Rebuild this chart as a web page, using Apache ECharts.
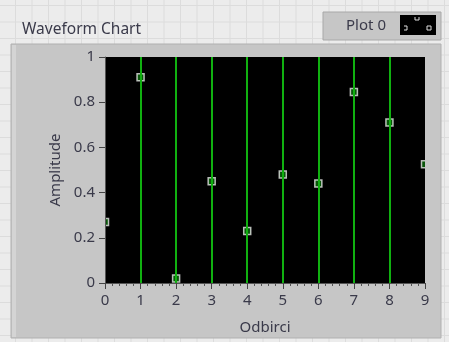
<!DOCTYPE html>
<html>
<head>
<meta charset="utf-8">
<script src="https://cdn.jsdelivr.net/npm/echarts@6/dist/echarts.min.js"></script>
<style>
  html, body { margin: 0; padding: 0; background: #ececec; }
  #main { width: 449px; height: 342px; }
</style>
</head>
<body>
<div id="main"></div>
<script>
// data
const samples = [0, 1, 2, 3, 4, 5, 6, 7, 8, 9];
const amplitude = [0.27, 0.91, 0.02, 0.45, 0.23, 0.48, 0.44, 0.845, 0.71, 0.525];
const plotName = 'Plot 0';

const myChart = echarts.init(document.getElementById('main'));

// front panel grid + chart frame
const bg = [];
for (let x = 15.5; x < 449; x += 16.5) {
  bg.push({ type: 'line', shape: { x1: x, y1: 0, x2: x, y2: 342 }, style: { stroke: '#dcdcdc', lineWidth: 1 }, z: -20 });
}
for (let y = 5.5; y < 342; y += 16.5) {
  bg.push({ type: 'line', shape: { x1: 0, y1: y, x2: 449, y2: y }, style: { stroke: '#dcdcdc', lineWidth: 1 }, z: -20 });
}
bg.push(
  { type: 'rect', shape: { x: 11, y: 44, width: 430, height: 294 }, style: { fill: '#c6c6c6', stroke: '#b0b0b0', lineWidth: 1 }, z: -10 },
  { type: 'rect', shape: { x: 12, y: 45, width: 4, height: 292 }, style: { fill: '#d4d4d4' }, z: -9 },
  { type: 'text', style: { text: 'Waveform Chart', x: 22, y: 30, fill: '#3a3a4a', font: '15.5px "Noto Sans"', verticalAlign: 'middle' }, z: -5 },
  // legend box
  { type: 'rect', shape: { x: 323, y: 12, width: 118, height: 28 }, style: { fill: '#c6c6c6', stroke: '#a8a8a8', lineWidth: 1 }, z: -5 },
  { type: 'text', style: { text: plotName, x: 366, y: 26, fill: '#3a3a4a', font: '15px "Noto Sans"', align: 'center', verticalAlign: 'middle' }, z: -4 },
  { type: 'rect', shape: { x: 400, y: 15, width: 36, height: 20 }, style: { fill: '#000' }, z: -4 },
  { type: 'polyline', shape: { points: [[404, 26], [407, 26], [407, 30], [404, 30]] }, style: { fill: 'none', stroke: '#ddd', lineWidth: 1 }, z: -3 },
  { type: 'polyline', shape: { points: [[415, 17], [415, 20], [419, 20], [419, 17]] }, style: { fill: 'none', stroke: '#ddd', lineWidth: 1 }, z: -3 },
  { type: 'rect', shape: { x: 427, y: 26, width: 4, height: 4 }, style: { fill: 'none', stroke: '#ddd', lineWidth: 1 }, z: -3 },
  // masks that clip the edge markers to the plot area
  { type: 'rect', shape: { x: 95, y: 50, width: 10, height: 240 }, style: { fill: '#c6c6c6' }, z: 5 },
  { type: 'rect', shape: { x: 425, y: 50, width: 10, height: 240 }, style: { fill: '#c6c6c6' }, z: 5 }
);

const axisText = { color: '#3a3a4a', fontSize: 15, fontFamily: 'Noto Sans' };

const option = {
  animation: false,
  graphic: bg,
  grid: {
    left: 105, right: 24, top: 57, bottom: 59,
    show: true, backgroundColor: '#000', borderWidth: 0
  },
  xAxis: {
    type: 'value', min: 0, max: 9, interval: 1,
    z: 10,
    name: 'Odbirci', nameLocation: 'middle', nameGap: 37,
    nameTextStyle: axisText,
    axisLine: { show: true, lineStyle: { color: '#555', width: 1 } },
    axisTick: { show: true, length: 6, lineStyle: { color: '#444' } },
    minorTick: { show: true, splitNumber: 5, length: 3, lineStyle: { color: '#555' } },
    axisLabel: Object.assign({ margin: 10 }, axisText),
    splitLine: { show: true, showMinLine: false, showMaxLine: false, lineStyle: { color: '#10b010', width: 2 } }
  },
  yAxis: {
    type: 'value', min: 0, max: 1, interval: 0.2,
    z: 10,
    name: 'Amplitude', nameLocation: 'middle', nameGap: 40,
    nameTextStyle: axisText,
    axisLine: { show: true, lineStyle: { color: '#555', width: 1 } },
    axisTick: { show: true, length: 6, lineStyle: { color: '#444' } },
    axisLabel: Object.assign({ margin: 10 }, axisText),
    splitLine: { show: false }
  },
  series: [
    {
      name: plotName,
      type: 'scatter',
      clip: false,
      symbol: 'rect',
      symbolSize: 7,
      itemStyle: { color: '#0c6a0c', borderColor: '#e6e6e6', borderWidth: 1.5 },
      data: samples.map((s, i) => [s, amplitude[i]])
    }
  ]
};

myChart.setOption(option);
</script>
</body>
</html>
